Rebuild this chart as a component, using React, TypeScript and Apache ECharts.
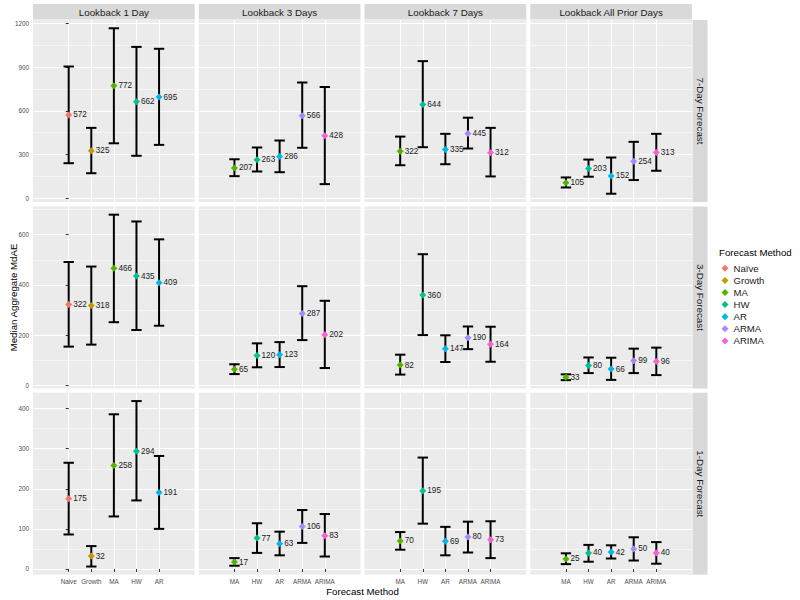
import React, { useEffect, useRef } from 'react';
import * as echarts from 'echarts';

const FONT = '"Liberation Sans", Arial, Helvetica, sans-serif';

const methodNames = ['Naïve', 'Growth', 'MA', 'HW', 'AR', 'ARMA', 'ARIMA'];
const methodColors = ['#F8766D', '#C49A00', '#53B400', '#00C094', '#00B6EB', '#A58AFF', '#FB61D7'];
const lookbackLabels = ['Lookback 1 Day', 'Lookback 3 Days', 'Lookback 7 Days', 'Lookback All Prior Days'];
const horizonLabels = ['7-Day Forecast', '3-Day Forecast', '1-Day Forecast'];
const panelMethodIdx = [[0, 1, 2, 3, 4], [2, 3, 4, 5, 6], [2, 3, 4, 5, 6], [2, 3, 4, 5, 6]];
const tickLabelsLookback1 = ['Naive', 'Growth', 'MA', 'HW', 'AR'];
const tickLabelsOther = ['MA', 'HW', 'AR', 'ARMA', 'ARIMA'];

// 7-Day Forecast row (columns: lookback 1, 3, 7, all prior)
const median7Day = [[572, 325, 772, 662, 695], [207, 263, 286, 566, 428], [322, 644, 335, 445, 312], [105, 203, 152, 254, 313]];
const lower7Day = [[240, 171, 377, 291, 366], [151, 183, 178, 346, 96], [226, 350, 233, 341, 149], [73, 147, 30, 124, 188]];
const upper7Day = [[905, 483, 1168, 1040, 1027], [267, 348, 396, 795, 764], [423, 942, 442, 553, 483], [142, 265, 279, 387, 442]];

// 3-Day Forecast row
const median3Day = [[322, 318, 466, 435, 409], [65, 120, 123, 287, 202], [82, 360, 147, 190, 164], [33, 80, 66, 99, 96]];
const lower3Day = [[155, 163, 252, 221, 238], [46, 73, 74, 181, 70], [44, 201, 94, 145, 95], [22, 50, 23, 50, 42]];
const upper3Day = [[491, 473, 679, 652, 581], [85, 168, 173, 395, 337], [123, 522, 200, 235, 234], [45, 112, 111, 147, 151]];

// 1-Day Forecast row
const median1Day = [[175, 32, 258, 294, 191], [17, 77, 63, 106, 83], [70, 195, 69, 80, 73], [25, 40, 42, 50, 40]];
const lower1Day = [[86, 6, 131, 171, 100], [8, 40, 34, 65, 31], [48, 113, 34, 41, 27], [12, 18, 26, 21, 13]];
const upper1Day = [[265, 57, 386, 419, 282], [27, 114, 93, 147, 137], [92, 278, 105, 118, 119], [39, 60, 59, 79, 67]];

const yMajor7Day = [0, 300, 600, 900, 1200];
const yMinor7Day = [150, 450, 750, 1050];
const yMajor3Day = [0, 200, 400, 600];
const yMinor3Day = [100, 300, 500, 700];
const yMajor1Day = [0, 100, 200, 300, 400];
const yMinor1Day = [50, 150, 250, 350];

const rows = [
  { median: median7Day, lower: lower7Day, upper: upper7Day, major: yMajor7Day, minor: yMinor7Day },
  { median: median3Day, lower: lower3Day, upper: upper3Day, major: yMajor3Day, minor: yMinor3Day },
  { median: median1Day, lower: lower1Day, upper: upper1Day, major: yMajor1Day, minor: yMinor1Day },
];

const PANEL_LEFT = [33, 198.75, 364.5, 530.25];
const PANEL_W = 161.75;
const PANEL_TOP = [20, 206.4, 392.8];
const PANEL_H = 182;
const X_MIN = -1.58;
const X_MAX = 5.58;
const CAP = 0.23;

function buildOption() {
  const grid: any[] = [];
  const xAxis: any[] = [];
  const yAxis: any[] = [];
  const series: any[] = [];
  const graphic: any[] = [];

  rows.forEach((row, r) => {
    const allLo = Math.min(...row.lower.flat());
    const allHi = Math.max(...row.upper.flat());
    const pad = (allHi - allLo) * 0.05;
    const yMin = allLo - pad;
    const yMax = allHi + pad;
    for (let c = 0; c < 4; c++) {
      const g = r * 4 + c;
      grid.push({
        left: PANEL_LEFT[c], top: PANEL_TOP[r], width: PANEL_W, height: PANEL_H,
        show: true, backgroundColor: '#EBEBEB', borderWidth: 0, borderColor: 'transparent',
      });
      const labels = c === 0 ? tickLabelsLookback1 : tickLabelsOther;
      const positions = labels.map((_, i) => i);
      xAxis.push({
        type: 'value', gridIndex: g, min: X_MIN, max: X_MAX,
        axisLine: { show: false },
        axisTick: { show: r === 2, customValues: positions, length: 3, lineStyle: { color: '#333333', width: 1 } },
        axisLabel: {
          show: r === 2, customValues: positions, margin: 4,
          formatter: (v: number) => labels[Math.round(v)] ?? '',
          fontSize: 6.3, color: '#4D4D4D', fontFamily: FONT,
        },
        splitLine: { show: true, lineStyle: { color: '#FFFFFF', width: 1.1 } },
      });
      yAxis.push({
        type: 'value', gridIndex: g, min: yMin, max: yMax,
        axisLine: { show: false },
        axisTick: { show: c === 0, customValues: row.major, length: 3, lineStyle: { color: '#333333', width: 1 } },
        axisLabel: {
          show: c === 0, customValues: row.major, margin: 4,
          formatter: (v: number) => String(Math.round(v)),
          fontSize: 6.3, color: '#4D4D4D', fontFamily: FONT,
        },
        splitLine: { show: true, lineStyle: { color: '#FFFFFF', width: 1.1 } },
      });
      yAxis.push({
        type: 'value', gridIndex: g, min: yMin, max: yMax, position: 'left',
        axisLine: { show: false },
        axisTick: { show: false, customValues: row.minor },
        axisLabel: { show: false },
        splitLine: { show: true, lineStyle: { color: '#FFFFFF', width: 0.55 } },
      });

      const mIdx = panelMethodIdx[c];
      series.push({
        type: 'custom', xAxisIndex: g, yAxisIndex: 2 * g, silent: true, z: 2,
        encode: { x: 0, y: [1, 2] },
        data: mIdx.map((_, i) => [i, row.lower[c][i], row.upper[c][i]]),
        renderItem: (params: any, api: any) => {
          const x = api.value(0);
          const lo = api.value(1);
          const hi = api.value(2);
          const pLo = api.coord([x, lo]);
          const pHi = api.coord([x, hi]);
          const xl = api.coord([x - CAP, lo])[0];
          const xr = api.coord([x + CAP, lo])[0];
          const st = { stroke: '#000000', lineWidth: 2, fill: null };
          return {
            type: 'group',
            children: [
              { type: 'line', shape: { x1: pLo[0], y1: pLo[1], x2: pHi[0], y2: pHi[1] }, style: st },
              { type: 'line', shape: { x1: xl, y1: pLo[1], x2: xr, y2: pLo[1] }, style: st },
              { type: 'line', shape: { x1: xl, y1: pHi[1], x2: xr, y2: pHi[1] }, style: st },
            ],
          };
        },
      });
      mIdx.forEach((m, i) => {
        series.push({
          type: 'scatter', name: methodNames[m], xAxisIndex: g, yAxisIndex: 2 * g, silent: true, z: 3,
          symbol: 'diamond', symbolSize: [7, 7],
          itemStyle: { color: methodColors[m], opacity: 1 },
          data: [[i, row.median[c][i]]],
          label: {
            show: true, position: 'right', distance: 1,
            formatter: (p: any) => String(p.value[1]),
            fontSize: 8.2, color: '#1A1A1A', fontFamily: FONT,
          },
        });
      });
    }
  });

  // column strips
  lookbackLabels.forEach((t, c) => {
    graphic.push({
      type: 'rect', silent: true,
      shape: { x: PANEL_LEFT[c], y: 4, width: PANEL_W, height: 15.5 },
      style: { fill: '#D9D9D9' },
    });
    graphic.push({
      type: 'text', silent: true, x: PANEL_LEFT[c] + PANEL_W / 2, y: 12,
      style: {
        text: t, fontSize: 9.8, fontFamily: FONT, fill: '#1A1A1A',
        align: 'center', verticalAlign: 'middle', textAlign: 'center', textVerticalAlign: 'middle',
      },
    });
  });
  // row strips
  horizonLabels.forEach((t, r) => {
    graphic.push({
      type: 'rect', silent: true,
      shape: { x: 692.5, y: PANEL_TOP[r], width: 15, height: PANEL_H },
      style: { fill: '#D9D9D9' },
    });
    graphic.push({
      type: 'text', silent: true, x: 700, y: PANEL_TOP[r] + PANEL_H / 2, rotation: -Math.PI / 2,
      style: {
        text: t, fontSize: 9.8, fontFamily: FONT, fill: '#1A1A1A',
        align: 'center', verticalAlign: 'middle', textAlign: 'center', textVerticalAlign: 'middle',
      },
    });
  });
  graphic.push({
    type: 'text', silent: true, x: 13, y: 297.5, rotation: Math.PI / 2,
    style: {
      text: 'Median Aggregate MdAE', fontSize: 9.7, fontFamily: FONT, fill: '#000000',
      align: 'center', verticalAlign: 'middle', textAlign: 'center', textVerticalAlign: 'middle',
    },
  });
  graphic.push({
    type: 'text', silent: true, x: 362.5, y: 591,
    style: {
      text: 'Forecast Method', fontSize: 9.7, fontFamily: FONT, fill: '#000000',
      align: 'center', verticalAlign: 'middle', textAlign: 'center', textVerticalAlign: 'middle',
    },
  });
  graphic.push({
    type: 'text', silent: true, x: 719, y: 252,
    style: {
      text: 'Forecast Method', fontSize: 9.7, fontFamily: FONT, fill: '#000000',
      align: 'left', verticalAlign: 'middle', textAlign: 'left', textVerticalAlign: 'middle',
    },
  });

  return {
    animation: false,
    backgroundColor: '#FFFFFF',
    textStyle: { fontFamily: FONT },
    grid, xAxis, yAxis, series, graphic,
    legend: {
      orient: 'vertical', left: 721.5, top: 263, padding: 0,
      itemWidth: 7, itemHeight: 7, itemGap: 1.5, selectedMode: false,
      icon: 'diamond',
      data: methodNames.map((name) => ({ name, icon: 'diamond' })),
      textStyle: { fontSize: 9.6, color: '#1A1A1A', fontFamily: FONT, lineHeight: 10.6 },
    },
  };
}

export default function App() {
  const ref = useRef<HTMLDivElement>(null);
  useEffect(() => {
    const chart = echarts.init(ref.current as HTMLDivElement, undefined, { renderer: 'svg' });
    chart.setOption(buildOption() as any);
    return () => chart.dispose();
  }, []);
  return (
    <div
      ref={ref}
      style={{ position: 'absolute', left: 0, top: 0, width: 800, height: 600, background: '#FFFFFF' }}
    />
  );
}
